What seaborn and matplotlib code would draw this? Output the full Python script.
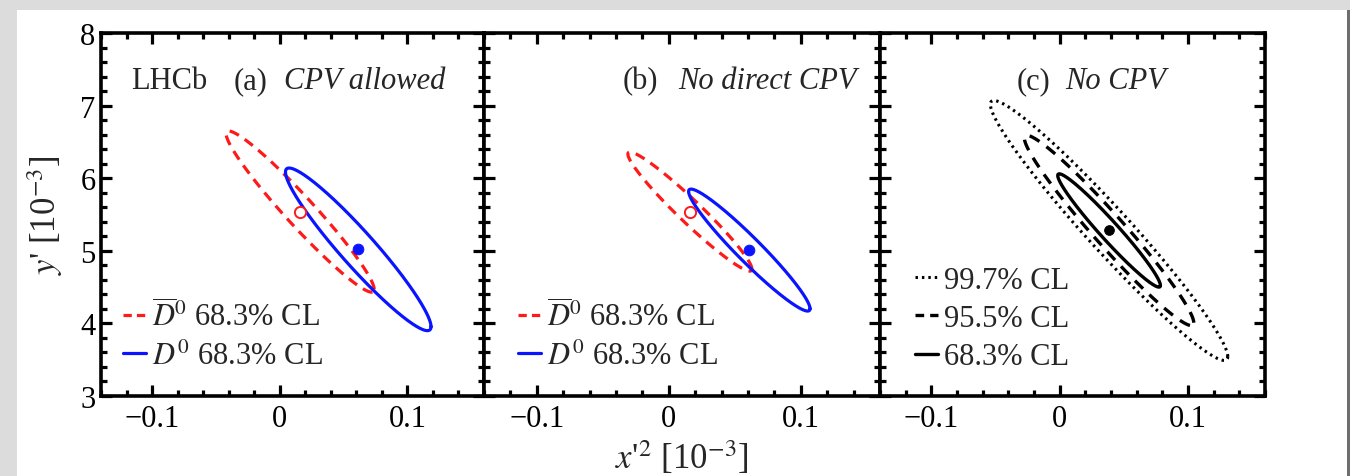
import numpy as np
import matplotlib
matplotlib.use("Agg")
import matplotlib.pyplot as plt
from matplotlib.patches import Rectangle
from matplotlib.lines import Line2D
from matplotlib.ticker import MultipleLocator, FixedLocator, FixedFormatter
import seaborn as sns

# ---------------- data ----------------
# each contour: centre x, centre y, half extent in x, half extent in y, correlation
# panel (a) CPV allowed
a_dbar = dict(cx=0.016, cy=5.54, hx=0.058, hy=1.11, rho=-0.965)
a_d = dict(cx=0.0615, cy=5.02, hx=0.057, hy=1.12, rho=-0.950)
# panel (b) No direct CPV
b_dbar = dict(cx=0.016, cy=5.54, hx=0.047, hy=0.82, rho=-0.965)
b_d = dict(cx=0.061, cy=5.01, hx=0.046, hy=0.84, rho=-0.960)
# panel (c) No CPV
c_centre = (0.0385, 5.28)
c_levels = ["99.7% CL", "95.5% CL", "68.3% CL"]
c_hx = [0.0925, 0.066, 0.040]
c_hy = [1.79, 1.31, 0.78]
c_rho = [-0.970, -0.970, -0.970]

x_ticks = [-0.1, 0.0, 0.1]
x_ticklabels = ["\u22120.1", "0", "0.1"]
y_ticks = [3, 4, 5, 6, 7, 8]
y_ticklabels = ["3", "4", "5", "6", "7", "8"]
panel_labels = ["(a)", "(b)", "(c)"]
panel_titles = ["CPV allowed", "No direct CPV", "No CPV"]


def contour(cx, cy, hx, hy, rho, n=400):
    t = np.linspace(0, 2 * np.pi, n)
    x = cx + hx * np.cos(t)
    y = cy + hy * (rho * np.cos(t) + np.sqrt(1 - rho ** 2) * np.sin(t))
    return x, y


# ---------------- style ----------------
sns.set_theme(style="ticks")
plt.rcParams["font.family"] = ["Liberation Serif", "DejaVu Serif"]
plt.rcParams["mathtext.fontset"] = "stix"
FS = 22

W, H = 1350, 477
fig = plt.figure(figsize=(W / 100, H / 100), dpi=100, facecolor="#dcdcdc")
fig.patches.append(Rectangle((17 / W, 0), (1347 - 17) / W, (H - 11) / H,
                             transform=fig.transFigure, facecolor="white",
                             edgecolor="none", zorder=-5))
fig.patches.append(Rectangle((1347 / W, 0), 3 / W, (H - 11) / H,
                             transform=fig.transFigure, facecolor="#6e6e6e",
                             edgecolor="none", zorder=-5))

top, bottom = 34, 397
boxes = [(101, 484), (484, 880), (880, 1265)]
axes = []
for (l, r) in boxes:
    ax = fig.add_axes([l / W, (H - bottom) / H, (r - l) / W, (bottom - top) / H])
    ax.set_facecolor("white")
    ax.set_xlim(-0.14, 0.16)
    ax.set_ylim(3, 8)
    ax.xaxis.set_major_locator(FixedLocator(x_ticks))
    ax.xaxis.set_major_formatter(FixedFormatter(x_ticklabels))
    ax.xaxis.set_minor_locator(MultipleLocator(0.02))
    ax.yaxis.set_major_locator(FixedLocator(y_ticks))
    ax.yaxis.set_major_formatter(FixedFormatter(y_ticklabels))
    ax.yaxis.set_minor_locator(MultipleLocator(0.2))
    ax.tick_params(which="both", direction="in", top=True, right=True,
                   bottom=True, left=True, width=2.3, color="black",
                   labelsize=FS, labelcolor="black")
    ax.tick_params(which="major", length=8)
    ax.tick_params(which="minor", length=4.5)
    ax.tick_params(axis="x", pad=6)
    ax.tick_params(axis="y", pad=4)
    for s in ax.spines.values():
        s.set_linewidth(2.6)
        s.set_color("black")
    axes.append(ax)

for ax in axes[1:]:
    ax.tick_params(axis="y", labelleft=False)

RED, BLUE = "#ff1a1a", "#0a14ff"
red_ls = (0, (3.2, 2.2))

# panels (a) and (b)
for ax, dbar, d in [(axes[0], a_dbar, a_d), (axes[1], b_dbar, b_d)]:
    xr, yr = contour(**dbar)
    sns.lineplot(x=xr, y=yr, ax=ax, sort=False, estimator=None, color=RED,
                 linewidth=2.3, linestyle=red_ls)
    xb, yb = contour(**d)
    sns.lineplot(x=xb, y=yb, ax=ax, sort=False, estimator=None, color=BLUE,
                 linewidth=2.3)
    sns.scatterplot(x=[dbar["cx"]], y=[dbar["cy"]], ax=ax, s=65,
                    facecolor="white", edgecolor=RED, linewidth=1.4, zorder=5)
    sns.scatterplot(x=[d["cx"]], y=[d["cy"]], ax=ax, s=60, color=BLUE,
                    edgecolor=BLUE, zorder=5)

# panel (c)
c_styles = [(0, (0.8, 1.3)), (0, (3.4, 2.6)), "-"]
c_lw = [2.2, 2.4, 2.4]
for hx, hy, rho, ls, lw in zip(c_hx, c_hy, c_rho, c_styles, c_lw):
    xc, yc = contour(c_centre[0], c_centre[1], hx, hy, rho)
    sns.lineplot(x=xc, y=yc, ax=axes[2], sort=False, estimator=None,
                 color="black", linewidth=lw, linestyle=ls)
sns.scatterplot(x=[c_centre[0]], y=[c_centre[1]], ax=axes[2], s=50,
                color="black", edgecolor="black", zorder=5)

for ax in axes:
    ax.set_xlabel("")
    ax.set_ylabel("")
    ax.set_xlim(-0.14, 0.16)
    ax.set_ylim(3, 8)

# titles inside panels
ty = 0.868
axes[0].text(0.078, ty, "LHCb", transform=axes[0].transAxes, fontsize=FS,
             ha="left", va="center")
title_x = [(0.347, 0.478), (0.351, 0.490), (0.356, 0.480)]
for ax, lab, ttl, (x1, x2) in zip(axes, panel_labels, panel_titles, title_x):
    ax.text(x1, ty, lab, transform=ax.transAxes, fontsize=FS, ha="left",
            va="center")
    ax.text(x2, ty, ttl, transform=ax.transAxes, fontsize=FS, ha="left",
            va="center", style="italic")

# legends
leg_kw = dict(frameon=False, fontsize=FS, loc="lower left", borderaxespad=0,
              borderpad=0, handlelength=0.75, handletextpad=0.2,
              labelspacing=0.3)
ab_handles = [Line2D([], [], color=RED, lw=2.3, linestyle=(0, (2.6, 1.6))),
              Line2D([], [], color=BLUE, lw=2.3)]
ab_labels = [r"$\overline{D}^0$ 68.3% CL", r"$D^0$ 68.3% CL"]
axes[0].legend(ab_handles, ab_labels, bbox_to_anchor=(0.057, 0.07), **leg_kw)
axes[1].legend(ab_handles, ab_labels, bbox_to_anchor=(0.086, 0.07), **leg_kw)
c_handles = [Line2D([], [], color="black", lw=s_lw, linestyle=s)
             for s, s_lw in zip([(0, (0.8, 1.3)), (0, (2.6, 1.8)), "-"], c_lw)]
axes[2].legend(c_handles, c_levels, bbox_to_anchor=(0.091, 0.068), **leg_kw)

# axis labels
fig.text(45 / W, 1 - 215 / H, r"$y$' [10$^{-3}$]", rotation=90, fontsize=25,
         ha="center", va="center")
fig.text(682 / W, 1 - 458 / H, r"$x$'$^2$ [10$^{-3}$]", fontsize=25,
         ha="center", va="center")

fig.savefig("out.png", dpi=100, facecolor=fig.get_facecolor())
